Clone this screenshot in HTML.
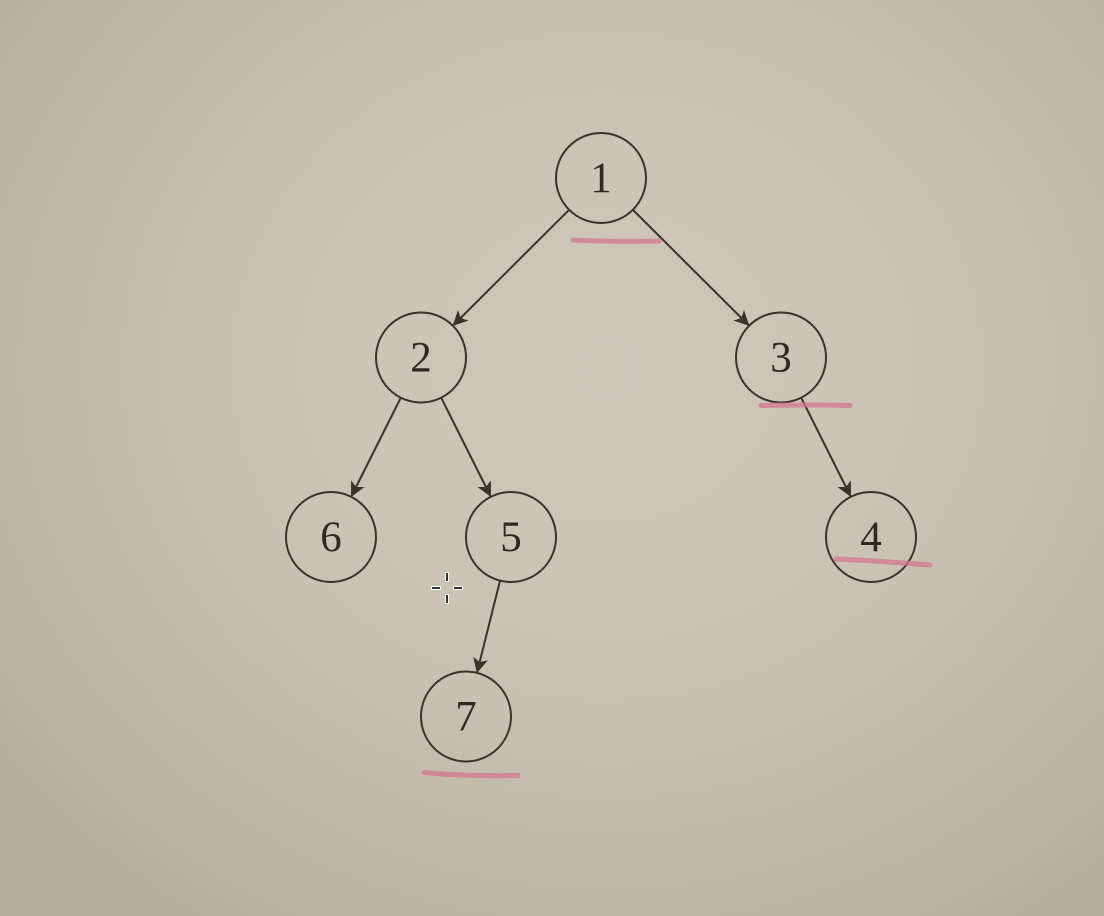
<!DOCTYPE html>
<html><head><meta charset="utf-8">
<style>
html,body{margin:0;padding:0;width:1104px;height:916px;overflow:hidden}
body{background:radial-gradient(ellipse 70% 75% at 55% 40%, #cfc7b8 0%, #cac2b2 45%, #bcb4a3 85%, #b4ac9b 100%)}
svg{position:absolute;left:0;top:0}
</style></head>
<body>
<svg id="tree" width="1104" height="916" viewBox="0 0 1104 916">
<defs>
<marker id="ah" viewBox="0 0 12 12" refX="11" refY="6" markerWidth="15" markerHeight="15" markerUnits="userSpaceOnUse" orient="auto">
<path d="M0,0 L12,6 L0,12 L3,6 Z" fill="#3a332a"/>
</marker>
</defs>
<g id="edges"></g>
<g id="nodes"></g>
<g id="marks"></g>
</svg>
<script>
const labels = ["1","2","3","6","5","4","7"];
const levels = [0,1,1,2,2,2,3];
const cols = [0,-2,2,-3,-1,3,-1.5];
const parents = [-1,0,0,1,1,2,4];
const underlined = ["1","3","4","7"];

const cx0 = 601, colW = 90, cy0 = 178, rowH = 179.5, R = 45;
const xOf = i => cx0 + cols[i]*colW;
const yOf = i => cy0 + levels[i]*rowH;
const NS = "http://www.w3.org/2000/svg";
const eg = document.getElementById('edges'), ng = document.getElementById('nodes'), mg = document.getElementById('marks');

for (let i=0;i<labels.length;i++){
  const p = parents[i];
  if (p<0) continue;
  const x1=xOf(p), y1=yOf(p), x2=xOf(i), y2=yOf(i);
  const d=Math.hypot(x2-x1,y2-y1), ux=(x2-x1)/d, uy=(y2-y1)/d;
  const ln=document.createElementNS(NS,'line');
  
  
  ln.setAttribute('x1',x1+ux*R); ln.setAttribute('y1',y1+uy*R);
  ln.setAttribute('x2',x2-ux*(R+1)); ln.setAttribute('y2',y2-uy*(R+1));
  ln.setAttribute('stroke','#3a332a'); ln.setAttribute('stroke-width','2');
  ln.setAttribute('marker-end','url(#ah)');
  eg.appendChild(ln);
}
for (let i=0;i<labels.length;i++){
  const g=document.createElementNS(NS,'g');
  
  
  const c=document.createElementNS(NS,'circle');
  c.setAttribute('cx',xOf(i)); c.setAttribute('cy',yOf(i)); c.setAttribute('r',R);
  c.setAttribute('fill','none'); c.setAttribute('stroke','#3a332a'); c.setAttribute('stroke-width','2');
  g.appendChild(c);
  const t=document.createElementNS(NS,'text');
  
  
  t.setAttribute('x',xOf(i)); t.setAttribute('y',yOf(i)+14);
  t.setAttribute('text-anchor','middle');
  t.setAttribute('font-family','"Liberation Serif", serif');
  t.setAttribute('font-size','43'); t.setAttribute('fill','#2e2821');
  t.textContent=labels[i];
  g.appendChild(t);
  ng.appendChild(g);
  if (underlined.includes(labels[i])){
    const u=document.createElementNS(NS,'path');
    
    
    const x=xOf(i), y=yOf(i);
    let d;
    if (labels[i]==="1") d=`M${x-28},${y+62} Q${x+10},${y+64} ${x+58},${y+63}`;
    else if (labels[i]==="3") d=`M${x-20},${y+48} Q${x+20},${y+47} ${x+69},${y+48}`;
    else if (labels[i]==="4") d=`M${x-35},${y+22} Q${x+10},${y+24} ${x+59},${y+28}`;
    else d=`M${x-42},${y+56} Q${x}, ${y+60} ${x+52},${y+59}`;
    u.setAttribute('d',d); u.setAttribute('fill','none');
    u.setAttribute('stroke','#d4768f'); u.setAttribute('stroke-width','5'); u.setAttribute('stroke-linecap','round');
    u.setAttribute('opacity','0.75');
    mg.appendChild(u);
  }
}
const cur=document.createElementNS(NS,'g');


cur.innerHTML='<path d="M447,572 v10 M447,594 v10 M431,588 h10 M453,588 h10" stroke="#fff" stroke-width="4"/><path d="M447,573 v8 M447,595 v8 M432,588 h8 M454,588 h8" stroke="#333" stroke-width="2"/>';
mg.appendChild(cur);
</script>
</body></html>
